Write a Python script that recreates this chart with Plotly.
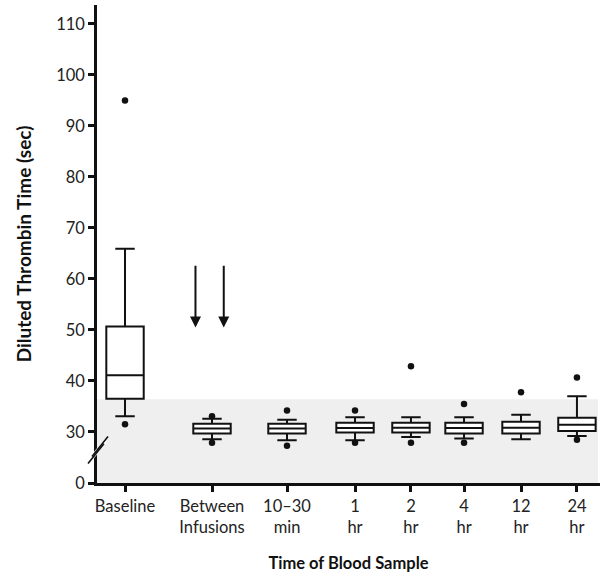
import plotly.graph_objects as go

# ---- data ----
categories = ["Baseline", "Between<br>Infusions", "10\u201330<br>min", "1<br>hr",
              "2<br>hr", "4<br>hr", "12<br>hr", "24<br>hr"]
q1 = [36.5, 29.7, 29.7, 29.9, 29.9, 29.7, 29.7, 30.2]
median = [41.1, 30.7, 30.7, 30.8, 30.85, 30.8, 30.85, 31.4]
q3 = [50.7, 31.6, 31.6, 31.8, 31.8, 31.8, 32.0, 32.8]
lower_whisker = [33.1, 28.6, 28.4, 28.4, 29.0, 28.7, 28.6, 29.2]
upper_whisker = [65.9, 32.6, 32.4, 32.9, 32.9, 32.9, 33.4, 37.0]
outliers = [[95.0, 31.5], [33.1, 27.9], [34.2, 27.3], [34.2, 27.9],
            [42.9, 27.9], [35.5, 27.9], [37.8], [40.7, 28.5]]
normal_upper = 36.4
y_tick_values = [0, 30, 40, 50, 60, 70, 80, 90, 100, 110]
arrow_top, arrow_tip = 62.9, 50.5

# ---- layout helpers ----
# uneven category spacing as in the original figure
xpos = [0, 1, 1.862, 2.644, 3.287, 3.897, 4.552, 5.195]
xr = [-0.322, 5.46]
BREAK = 20  # the axis is broken: value 0 is drawn where 20 would be

def ymap(v):
    return BREAK if v == 0 else v

fig = go.Figure()

for i, c in enumerate(categories):
    fig.add_trace(go.Box(
        x=[xpos[i]], q1=[q1[i]], median=[median[i]], q3=[q3[i]],
        lowerfence=[lower_whisker[i]], upperfence=[upper_whisker[i]],
        width=0.43, whiskerwidth=0.52, boxpoints=False,
        fillcolor="white", line=dict(color="#111111", width=2),
        showlegend=False, hoverinfo="skip"))
    fig.add_trace(go.Scatter(
        x=[xpos[i]] * len(outliers[i]), y=outliers[i], mode="markers",
        marker=dict(color="#111111", size=6.5), showlegend=False,
        hoverinfo="skip"))

shapes = [
    dict(type="rect", xref="paper", yref="y", x0=0, x1=0.996, y0=BREAK,
         y1=normal_upper, fillcolor="#efefef", line=dict(width=0), layer="below"),
]
# axis break marks
def px2paper(px):
    return (px - 97) / 503.0
for dx, col, w in [(0, "white", 4), (-2, "#111111", 1.6), (2, "#111111", 1.6)]:
    shapes.append(dict(type="line", xref="paper", yref="y",
                       x0=px2paper(90 + dx), x1=px2paper(106 + dx),
                       y0=24.5 + dx * 0.35, y1=28.4 + dx * 0.35,
                       line=dict(color=col, width=w)))
fig.update_layout(shapes=shapes)

annotations = []
for off in (-0.19, 0.135):
    annotations.append(dict(x=xpos[1] + off, y=arrow_tip, ax=xpos[1] + off, ay=arrow_top,
                            xref="x", yref="y", axref="x", ayref="y", text="",
                            showarrow=True, arrowhead=2, arrowsize=1.1,
                            arrowwidth=2, arrowcolor="#111111"))
fig.update_layout(annotations=annotations)

font_family = "Lato, 'Open Sans', sans-serif"
fig.update_layout(
    width=600, height=577,
    margin=dict(l=97, r=0, t=5, b=94),
    paper_bgcolor="white", plot_bgcolor="white",
    font=dict(family=font_family, size=17, color="#222222"),
    xaxis=dict(range=xr, tickmode="array", tickvals=xpos, ticktext=categories,
               ticks="outside", ticklen=6, tickwidth=2.5, tickcolor="#111111",
               showline=True, linecolor="#111111", linewidth=2.5,
               showgrid=False, zeroline=False,
               tickfont=dict(size=16.5, color="#222222"),
               title=dict(text="<b>Time of Blood Sample</b>",
                          font=dict(size=16.5, color="#111111"), standoff=22)),
    yaxis=dict(range=[BREAK, 113.7], tickmode="array",
               tickvals=[ymap(v) for v in y_tick_values],
               ticktext=[str(v) for v in y_tick_values],
               ticks="outside", ticklen=6, tickwidth=2.5, tickcolor="#111111",
               showline=True, linecolor="#111111", linewidth=2.5,
               showgrid=False, zeroline=False,
               tickfont=dict(size=16.5, color="#222222"),
               title=dict(text="<b>Diluted Thrombin Time (sec)</b>",
                          font=dict(size=19, color="#111111"), standoff=20)),
)

fig.write_html("out.html")
